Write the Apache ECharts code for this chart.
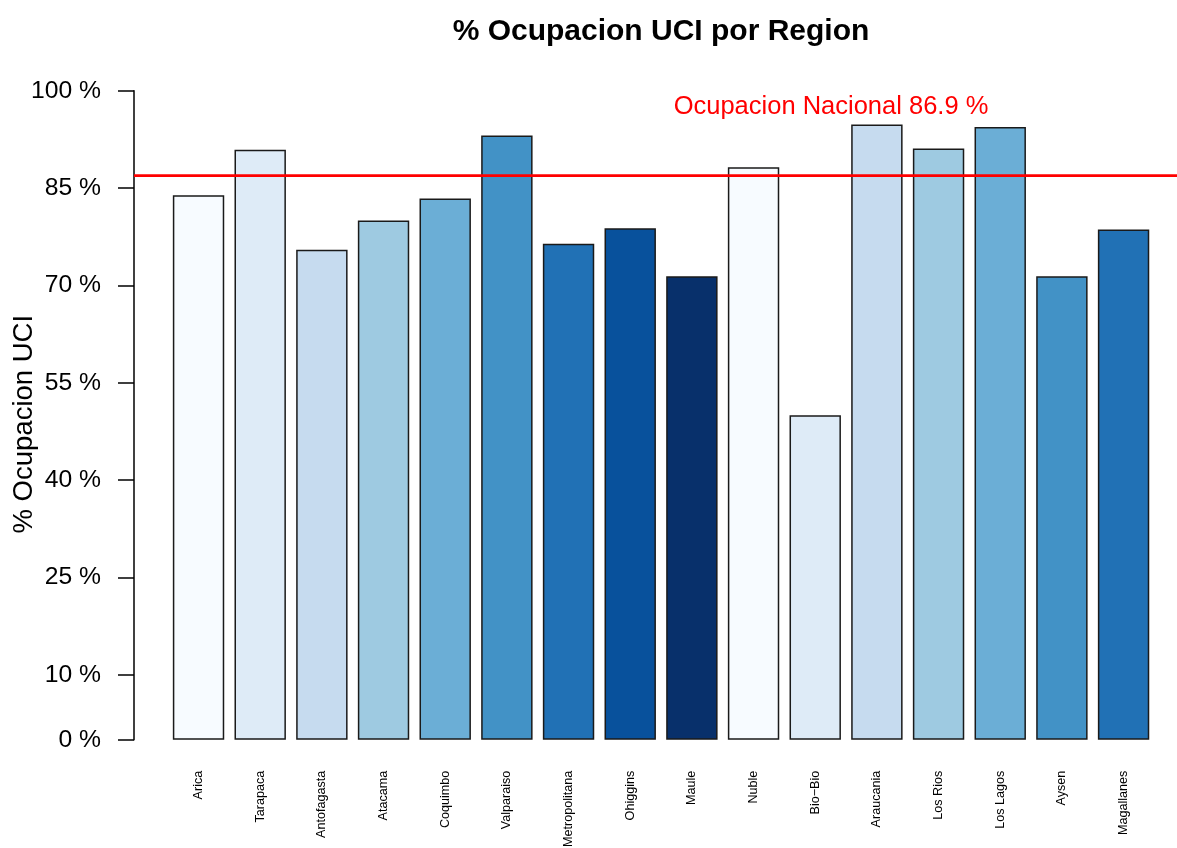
<!DOCTYPE html>
<html>
<head>
<meta charset="utf-8">
<script src="https://cdn.jsdelivr.net/npm/echarts@6/dist/echarts.min.js"></script>
<style>html,body{margin:0;padding:0;background:#fff}#c{width:1177px;height:848px}</style>
</head>
<body>
<div id="c"></div>
<script>
const regions = ['Arica','Tarapaca','Antofagasta','Atacama','Coquimbo','Valparaiso','Metropolitana','Ohiggins','Maule','Nuble','Bio\u2212Bio','Araucania','Los Rios','Los Lagos','Aysen','Magallanes'];
const occupancy = [83.9, 90.9, 75.5, 80.0, 83.4, 93.1, 76.4, 78.8, 71.4, 88.2, 50.0, 94.8, 91.1, 94.4, 71.4, 78.6];
const nationalValue = 86.9;
const yTicks = [0, 10, 25, 40, 55, 70, 85, 100];
const titleText = '% Ocupacion UCI por Region';
const yAxisTitle = '% Ocupacion UCI';
const nationalLabel = 'Ocupacion Nacional 86.9 %';

const blues = ['#F7FBFF','#DEEBF7','#C6DBEF','#9ECAE1','#6BAED6','#4292C6','#2171B5','#08519C','#08306B'];
const FONT = '"Liberation Sans", Arial, sans-serif';

const chart = echarts.init(document.getElementById('c'), null, {renderer: 'canvas'});
chart.setOption({
  animation: false,
  backgroundColor: '#ffffff',
  textStyle: {fontFamily: FONT},
  title: [
    {text: titleText, left: 656, top: 12, textAlign: 'center',
     textStyle: {fontFamily: FONT, fontSize: 30, fontWeight: 'bold', color: '#000'}},
    {text: nationalLabel, left: 826, top: 89, textAlign: 'center',
     textStyle: {fontFamily: FONT, fontSize: 25.5, fontWeight: 'normal', color: '#FF0000'}}
  ],
  grid: [
    {left: 134, right: 0, top: 90.7, height: 649, outerBoundsMode: 'none', containLabel: false},
    {left: 167.7, width: 986.7, top: 90.7, height: 649, outerBoundsMode: 'none', containLabel: false}
  ],
  xAxis: [
    {type: 'value', gridIndex: 0, min: 0, max: 1, show: false},
    {type: 'category', gridIndex: 1, data: regions,
     axisLine: {show: false}, axisTick: {show: false},
     axisLabel: {interval: 0, rotate: 90, margin: 31, fontSize: 12.6, color: '#000', fontFamily: FONT}}
  ],
  yAxis: [
    {type: 'value', gridIndex: 0, min: 0, max: 100,
     name: yAxisTitle, nameLocation: 'middle', nameGap: 96, nameRotate: 90, nameMoveOverlap: false,
     nameTextStyle: {fontFamily: FONT, fontSize: 27.5, color: '#000', padding: [0, 18, 0, 0]},
     axisLine: {show: true, lineStyle: {color: '#000', width: 1.5}},
     axisTick: {show: true, length: 16, lineStyle: {color: '#000', width: 1.5}, customValues: yTicks},
     axisLabel: {margin: 33, fontSize: 24.7, color: '#000', fontFamily: FONT,
                 customValues: yTicks, formatter: v => v + ' %'},
     splitLine: {show: false}},
    {type: 'value', gridIndex: 1, min: 0, max: 100, show: false, splitLine: {show: false}}
  ],
  series: [
    {type: 'bar', xAxisIndex: 1, yAxisIndex: 1, barWidth: 51.4,
     data: occupancy.map((v, i) => ({value: v, itemStyle: {color: blues[i % blues.length]}})),
     itemStyle: {borderColor: '#1a1a1a', borderWidth: 1.5}},
    {type: 'line', xAxisIndex: 0, yAxisIndex: 0, symbol: 'none', z: 5,
     lineStyle: {color: '#FF0000', width: 2.8},
     data: [[0, nationalValue], [1, nationalValue]]}
  ]
});
</script>
</body>
</html>
